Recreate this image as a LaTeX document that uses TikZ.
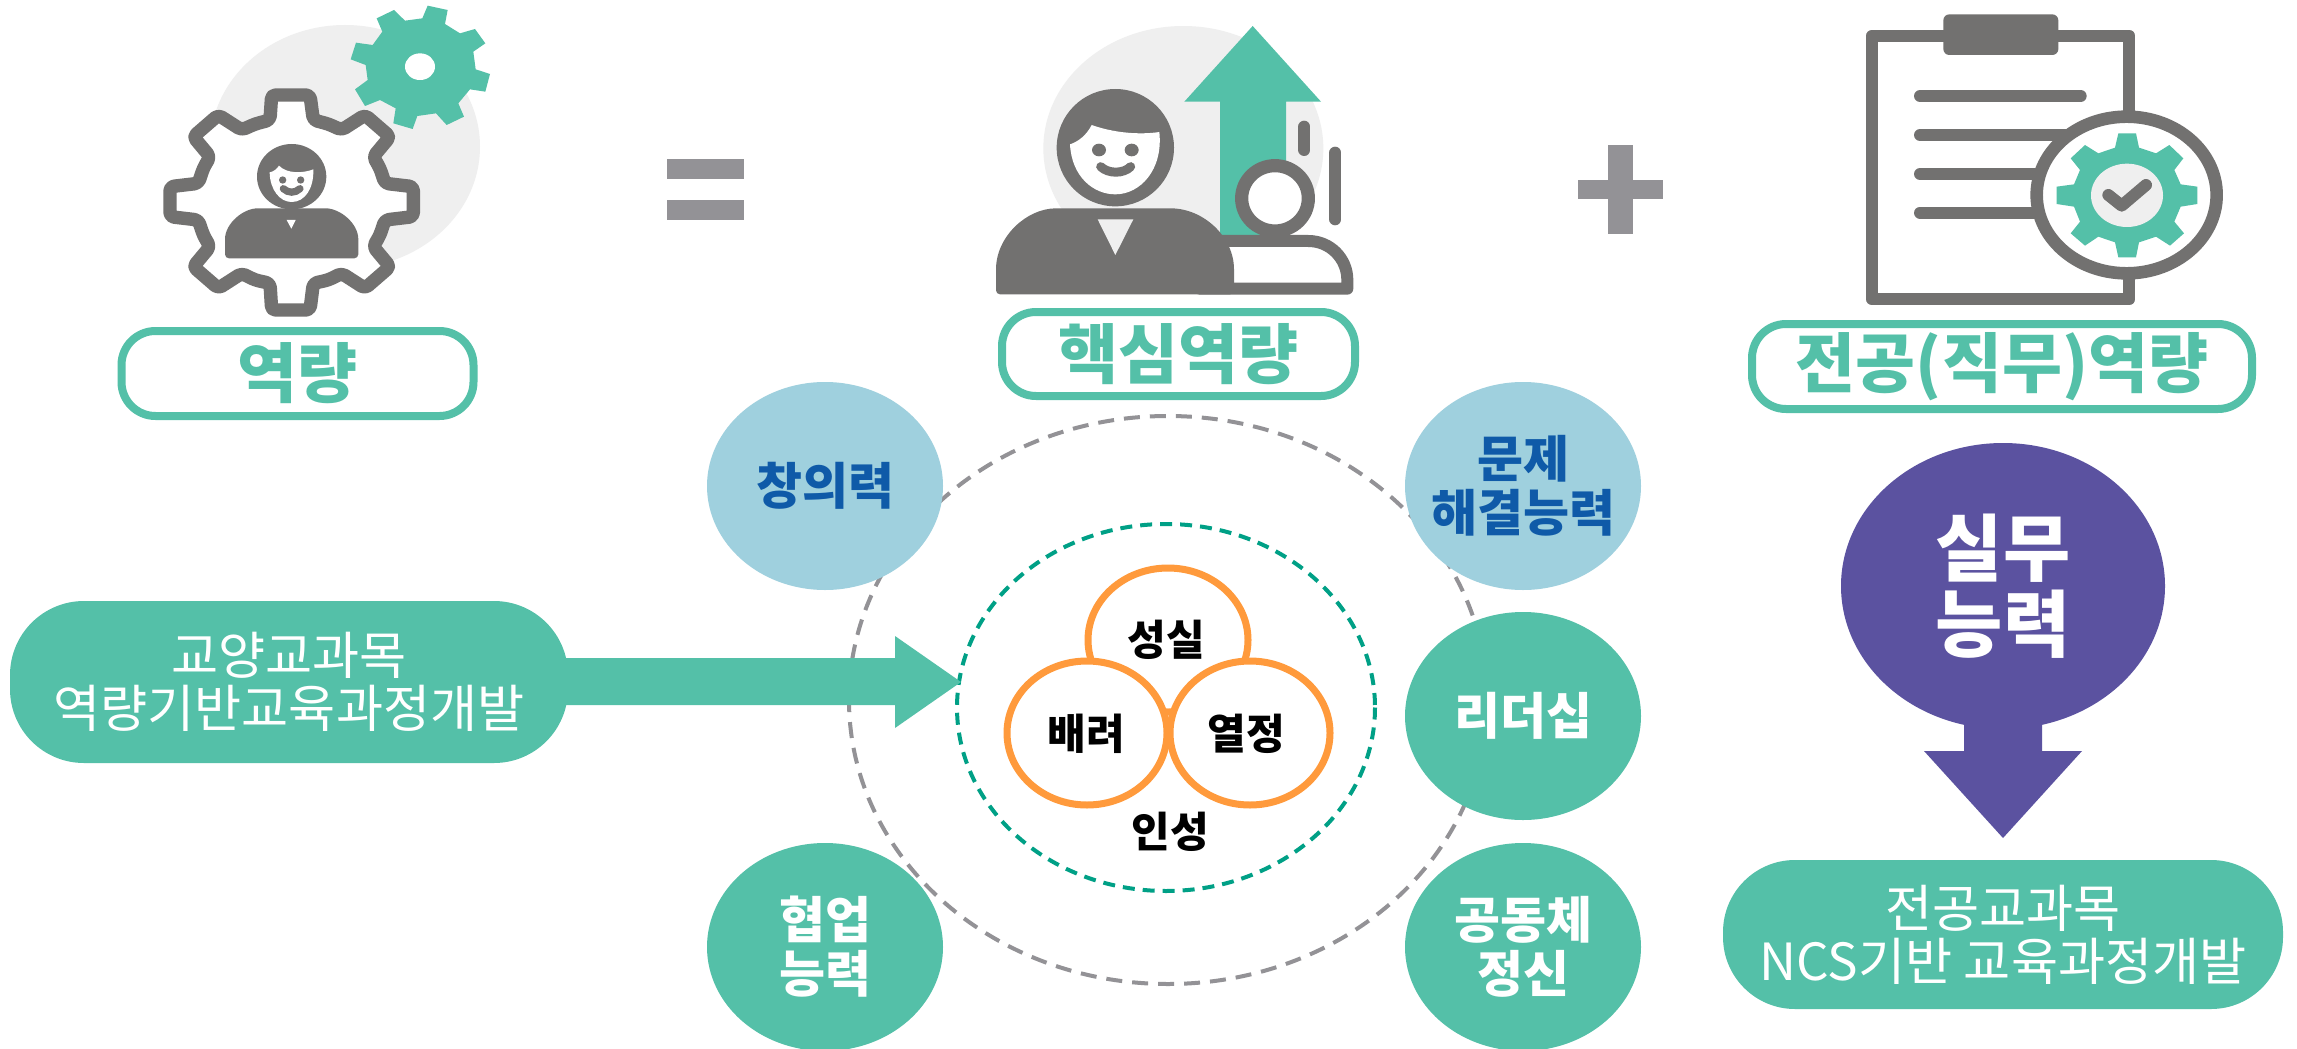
\documentclass[tikz,border=0pt]{standalone}
\usepackage{fontspec}
\setmainfont{Noto Sans CJK KR}
\usetikzlibrary{shapes.geometric}
\definecolor{teal1}{HTML}{54C0A8}
\definecolor{gray1}{HTML}{727170}
\definecolor{gray2}{HTML}{939296}
\definecolor{bg1}{HTML}{EFEFEF}
\definecolor{dgreen}{HTML}{00A086}
\definecolor{orange1}{HTML}{FF9A3C}
\definecolor{lblue}{HTML}{9FD0DE}
\definecolor{dblue}{HTML}{0F5AA8}
\definecolor{purple1}{HTML}{5B52A0}
\newcommand{\fs}[2]{\fontsize{#1pt}{#2pt}\selectfont}
\tikzset{
  x=0.5pt,y=-0.5pt,
  labelbox/.style={draw=teal1,line width=4pt,rounded corners=17pt,fill=white,text=teal1,inner sep=0pt,font=\fs{32.6}{36}\bfseries},
  cap1/.style={ellipse,minimum width=118pt,minimum height=104pt,inner sep=-20pt,align=center,font=\fs{25}{27}\bfseries},
  bluecap/.style={cap1,fill=lblue,text=dblue},
  greencap/.style={cap1,fill=teal1,text=white},
  devbox/.style={fill=teal1,text=white,inner sep=0pt,align=center,font=\fs{25.6}{26.5}},
  trait/.style={ellipse,draw=orange1,fill=white,line width=3.5pt,minimum width=80pt,minimum height=72pt,inner sep=0pt},
  traittext/.style={inner sep=0pt,font=\fs{21}{23}\bfseries},
  grayln/.style={draw=gray1,line cap=round,line width=6pt},
  gearln/.style={draw=gray1,fill=white,line width=6.7pt,line join=round,rounded corners=2pt},
  gsolid/.style={fill=gray1,rounded corners=2pt},
  tsolid/.style={fill=teal1},
  bgdisc/.style={fill=bg1},
  opsolid/.style={fill=gray2}
}
\begin{document}
\begin{tikzpicture}
\useasboundingbox (0,0) rectangle (2297,1049);
\fill[white] (0,0) rectangle (2297,1049);

% --- left icon
\begin{scope}[shift={(130,0)},scale=1/3]
\fill[bgdisc] (645,440) ellipse [x radius=405,y radius=365];
\draw[gearln] (425,285)--(540,285)--(550,360)--(595,372)--(635,390)--(705,345)--(780,410)--(730,470)--(750,505)--(765,550)--(850,560)--(850,650)--(765,660)--(750,705)--(730,740)--(780,800)--(705,865)--(635,820)--(595,840)--(550,850)--(540,930)--(425,930)--(420,850)--(375,840)--(335,820)--(265,865)--(190,800)--(240,740)--(220,705)--(205,660)--(120,650)--(120,560)--(205,550)--(220,505)--(240,470)--(190,410)--(265,345)--(335,390)--(375,372)--(420,360)--cycle;
\fill[tsolid] (893,17)--(953,30)--(945,72)--(990,100)--(1035,87)--(1066,130)--(1030,155)--(1037,208)--(1080,222)--(1066,275)--(1020,268)--(985,310)--(1002,350)--(950,375)--(918,340)--(862,348)--(848,387)--(790,370)--(797,325)--(750,300)--(705,318)--(675,268)--(713,240)--(707,195)--(662,178)--(678,128)--(728,135)--(757,95)--(740,55)--(792,30)--(825,62)--(877,55)--cycle;
\fill[white] (870,200) ellipse [x radius=45,y radius=40];
\fill[gray1] (485,530) ellipse [x radius=104,y radius=98];
\fill[white] (419,517) .. controls (420,570) and (450,606) .. (485,606) .. controls (525,606) and (552,565) .. (550,508) .. controls (520,520) and (470,522) .. (447,497) .. controls (440,508) and (430,515) .. (419,517) -- cycle;
\fill[gray1] (458,540) circle [radius=11];
\fill[gray1] (512,540) circle [radius=11];
\draw[gray1,line width=3.6pt,line cap=round] (460,566) .. controls (475,580) and (495,580) .. (510,566);
\fill[gsolid] (285,775) -- (285,730) .. controls (285,670) and (340,625) .. (395,625) -- (575,625) .. controls (630,625) and (685,670) .. (685,730) -- (685,775) -- cycle;
\fill[white] (470,660)--(497,660)--(484,686)--cycle;
\end{scope}
\node[labelbox,minimum width=176pt,minimum height=42.5pt] (lblA) at (297.5,373.5) {역량};

% --- equals
\fill[opsolid] (667,159) rectangle (744,179);
\fill[opsolid] (667,200) rectangle (744,220);

% --- middle icon
\begin{scope}[shift={(980,10)},scale=1/3]
\fill[bgdisc] (610,415) ellipse [x radius=420,y radius=367];
\fill[tsolid] (818,48)--(1023,275)--(918,275)--(918,690)--(720,690)--(720,275)--(613,275)--cycle;
\draw[grayln] (973,350)--(973,420);
\draw[grayln] (1066,428)--(1066,628);
\draw[draw=gray1,fill=white,line width=6.6pt] (885,565) ellipse [x radius=100,y radius=98];
\draw[draw=gray1,fill=white,line width=6pt,line join=round] (660,836) -- (660,693) -- (985,693) .. controls (1050,693) and (1102,745) .. (1102,810) -- (1102,836) -- cycle;
\fill[gsolid] (48,853) -- (48,790) .. controls (48,680) and (140,595) .. (240,595) -- (560,595) .. controls (670,595) and (762,680) .. (762,790) -- (762,853) -- cycle;
\fill[bg1] (353,628)--(460,628)--(406,735)--cycle;
\fill[gray1] (406,413) circle [radius=176];
\fill[white] (270,403) .. controls (275,500) and (340,553) .. (406,553) .. controls (480,553) and (550,480) .. (538,366) .. controls (500,372) and (420,375) .. (335,345) .. controls (320,375) and (295,395) .. (270,403) -- cycle;
\fill[gray1] (357,420) ellipse [x radius=21,y radius=19];
\fill[gray1] (455,420) ellipse [x radius=21,y radius=19];
\draw[gray1,line width=4.5pt,line cap=round] (362,470) .. controls (385,492) and (430,492) .. (452,470);
\end{scope}
\node[labelbox,minimum width=176.5pt,minimum height=42pt] (lblB) at (1178.5,354) {핵심역량};

% --- plus
\fill[opsolid] (1608,145) rectangle (1633,234);
\fill[opsolid] (1578,180) rectangle (1663,199);

% --- right icon
\begin{scope}[shift={(1840,0)},scale=1/3]
\draw[draw=gray1,line width=6pt,line join=round] (96,107) rectangle (868,898);
\fill[gray1,rounded corners=3pt] (310,43) rectangle (655,165);
\draw[grayln] (240,288)--(722,288);
\draw[grayln] (240,405)--(690,405);
\draw[grayln] (240,522)--(600,522);
\draw[grayln] (240,638)--(600,638);
\draw[draw=gray1,fill=white,line width=6.3pt] (860,585) ellipse [x radius=270,y radius=235];
\fill[tsolid] (835,400)--(888,400)--(897,443)--(948,460)--(988,435)--(1030,475)--(1003,510)--(1022,553)--(1072,560)--(1072,612)--(1022,620)--(1003,665)--(1032,700)--(990,737)--(948,710)--(897,727)--(888,772)--(835,772)--(825,727)--(775,710)--(735,737)--(692,700)--(720,665)--(702,620)--(650,612)--(650,560)--(702,553)--(720,510)--(692,475)--(735,435)--(775,460)--(825,443)--cycle;
\fill[bg1] (861,586) ellipse [x radius=108,y radius=95];
\draw[gray1,line width=6pt,line cap=round,line join=round] (805,585)--(845,617)--(918,555);
\end{scope}
\node[labelbox,minimum width=250pt,minimum height=42.5pt] (lblC) at (2002,366.5) {전공(직무)역량};

% --- centre diagram
\coordinate (ctr) at (1168,700);
\draw[draw=gray2,line width=2pt,dash pattern=on 8pt off 5pt] (ctr) ellipse [x radius=319,y radius=284];
\draw[draw=dgreen,line width=2pt,dash pattern=on 6pt off 4pt] (1166,707.5) ellipse [x radius=209,y radius=183.5];

\node[bluecap] (cre) at (825,486) {창의력};
\node[bluecap] (pro) at (1523,486) {문제\\해결능력};
\node[greencap] (lea) at (1523,716) {리더십};
\node[greencap] (col) at (825,947) {협업\\능력};
\node[greencap] (com) at (1523,947) {공동체\\정신};

\node[trait] (t1) at (1168,640) {};
\node[trait] (t2) at (1087,733) {};
\node[trait] (t3) at (1250,733) {};
\node[traittext] (t1t) at (1166,640) {성실};
\node[traittext] (t2t) at (1086,734) {배려};
\node[traittext] (t3t) at (1246,734) {열정};
\node[traittext] (t4t) at (1170,832) {인성};

% --- left box and arrow
\fill[tsolid] (560,658)--(895,658)--(895,636)--(961,682)--(895,728)--(895,705)--(560,705)--cycle;
\node[devbox,rounded corners=37pt,minimum width=279pt,minimum height=81pt] (devL) at (289,682) {교양교과목\\역량기반교육과정개발};

% --- right column
\node[ellipse,fill=purple1,text=white,minimum width=162pt,minimum height=143pt,inner sep=-10pt,align=center,font=\fs{36.5}{38}\bfseries] (prac) at (2003,586) {실무\\능력};
\fill[purple1] (1964,722)--(2042,722)--(2042,751)--(2082,751)--(2003,838)--(1924,751)--(1964,751)--cycle;
\node[devbox,rounded corners=36pt,minimum width=280pt,minimum height=74.5pt] (devR) at (2003,934.5) {전공교과목\\NCS기반 교육과정개발};
\end{tikzpicture}
\end{document}
